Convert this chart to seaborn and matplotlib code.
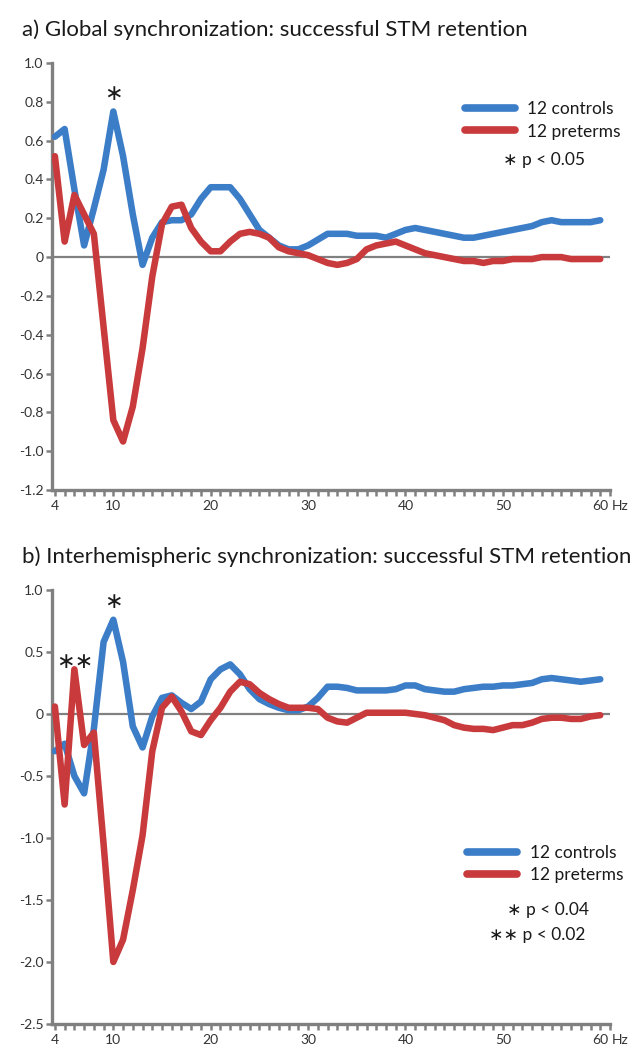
import matplotlib.pyplot as plt
import pandas as pd
import seaborn as sns
from matplotlib.ticker import MultipleLocator

# frequencies (Hz)
freqs = list(range(4, 61))

# a) global synchronization
global_controls = [0.62, 0.66, 0.35, 0.06, 0.25, 0.45, 0.75, 0.52, 0.22, -0.04,
                   0.10, 0.18, 0.19, 0.19, 0.22, 0.30, 0.36, 0.36, 0.36, 0.30,
                   0.22, 0.14, 0.10, 0.06, 0.04, 0.04, 0.06, 0.09, 0.12, 0.12,
                   0.12, 0.11, 0.11, 0.11, 0.10, 0.12, 0.14, 0.15, 0.14, 0.13,
                   0.12, 0.11, 0.10, 0.10, 0.11, 0.12, 0.13, 0.14, 0.15, 0.16,
                   0.18, 0.19, 0.18, 0.18, 0.18, 0.18, 0.19]
global_preterms = [0.52, 0.08, 0.32, 0.22, 0.12, -0.36, -0.84, -0.95, -0.77, -0.47,
                   -0.10, 0.17, 0.26, 0.27, 0.15, 0.08, 0.03, 0.03, 0.08, 0.12,
                   0.13, 0.12, 0.10, 0.05, 0.03, 0.02, 0.01, -0.01, -0.03, -0.04,
                   -0.03, -0.01, 0.04, 0.06, 0.07, 0.08, 0.06, 0.04, 0.02, 0.01,
                   0.0, -0.01, -0.02, -0.02, -0.03, -0.02, -0.02, -0.01, -0.01, -0.01,
                   0.0, 0.0, 0.0, -0.01, -0.01, -0.01, -0.01]

# b) interhemispheric synchronization
inter_controls = [-0.30, -0.24, -0.50, -0.64, -0.12, 0.58, 0.76, 0.42, -0.10, -0.27,
                  -0.02, 0.13, 0.15, 0.09, 0.04, 0.10, 0.28, 0.36, 0.40, 0.32,
                  0.20, 0.12, 0.08, 0.05, 0.03, 0.03, 0.06, 0.13, 0.22, 0.22,
                  0.21, 0.19, 0.19, 0.19, 0.19, 0.20, 0.23, 0.23, 0.20, 0.19,
                  0.18, 0.18, 0.20, 0.21, 0.22, 0.22, 0.23, 0.23, 0.24, 0.25,
                  0.28, 0.29, 0.28, 0.27, 0.26, 0.27, 0.28]
inter_preterms = [0.06, -0.73, 0.36, -0.25, -0.15, -1.05, -2.00, -1.82, -1.42, -0.98,
                  -0.30, 0.05, 0.14, 0.02, -0.14, -0.17, -0.05, 0.05, 0.18, 0.26,
                  0.24, 0.17, 0.12, 0.08, 0.05, 0.05, 0.05, 0.04, -0.03, -0.06,
                  -0.07, -0.03, 0.01, 0.01, 0.01, 0.01, 0.01, 0.0, -0.01, -0.03,
                  -0.05, -0.09, -0.11, -0.12, -0.12, -0.13, -0.11, -0.09, -0.09, -0.07,
                  -0.04, -0.03, -0.03, -0.04, -0.04, -0.02, -0.01]

groups = ['12 controls', '12 preterms']
colors = ['#3c7dc8', '#c93a3c']

xtick_values = [4, 10, 20, 30, 40, 50, 60]
xtick_labels = ['4', '10', '20', '30', '40', '50', '60']

a_yticks = [1.0, 0.8, 0.6, 0.4, 0.2, 0, -0.2, -0.4, -0.6, -0.8, -1.0, -1.2]
a_ylabels = ['1.0', '0.8', '0.6', '0.4', '0.2', '0', '-0.2', '-0.4', '-0.6', '-0.8', '-1.0', '-1.2']
b_yticks = [1.0, 0.5, 0, -0.5, -1.0, -1.5, -2.0, -2.5]
b_ylabels = ['1.0', '0.5', '0', '-0.5', '-1.0', '-1.5', '-2.0', '-2.5']

titles = ['a) Global synchronization: successful STM retention',
          'b) Interhemispheric synchronization: successful STM retention']

sns.set_style('white')
plt.rcParams['font.family'] = ['Lato', 'DejaVu Sans']

axis_gray = '#808080'
tick_color = '#333333'
text_color = '#1a1a1a'


def draw_panel(ax, controls, preterms, yticks, ylabels):
    df = pd.DataFrame({
        'freq': freqs + freqs,
        'value': controls + preterms,
        'group': [groups[0]] * len(freqs) + [groups[1]] * len(freqs),
    })
    ax.axhline(0, color=axis_gray, linewidth=1.6, zorder=1)
    sns.lineplot(data=df, x='freq', y='value', hue='group', palette=colors,
                 linewidth=4.7, ax=ax, zorder=3)
    ax.set_xlim(3.7, 61.0)
    ax.set_ylim(min(yticks), max(yticks))
    ax.set_xticks(xtick_values)
    ax.set_xticklabels(xtick_labels)
    ax.xaxis.set_minor_locator(MultipleLocator(1))
    ax.set_yticks(yticks)
    ax.set_yticklabels(ylabels)
    ax.set_xlabel('')
    ax.set_ylabel('')
    for side in ['top', 'right']:
        ax.spines[side].set_visible(False)
    for side in ['left', 'bottom']:
        ax.spines[side].set_color(axis_gray)
        ax.spines[side].set_linewidth(2.4)
    ax.tick_params(axis='both', which='both', direction='out', color=axis_gray,
                   width=1.8, labelsize=10, labelcolor=tick_color,
                   bottom=True, left=True, top=False, right=False)
    ax.tick_params(axis='x', which='both', length=4.5, pad=3)
    ax.tick_params(axis='y', which='major', length=4, pad=2)


fig = plt.figure(figsize=(6.44, 10.5), dpi=100)
ax1 = fig.add_axes([0.0807, 0.5333, 0.8665, 0.4067])
ax2 = fig.add_axes([0.0807, 0.0248, 0.8665, 0.4133])

draw_panel(ax1, global_controls, global_preterms, a_yticks, a_ylabels)
draw_panel(ax2, inter_controls, inter_preterms, b_yticks, b_ylabels)

# "Hz" after the last tick label
for ax in [ax1, ax2]:
    ax.annotate('Hz', xy=(60, 0), xycoords=('data', 'axes fraction'),
                xytext=(8, -7.5), textcoords='offset points', ha='left', va='top',
                fontsize=10, color=tick_color)

fig.text(22 / 644, 1 - 30 / 1050, titles[0], fontsize=16, va='center', color=text_color)
fig.text(22 / 644, 1 - 557 / 1050, titles[1], fontsize=16, va='center', color=text_color)

# legends
leg_kw = dict(loc='upper left', frameon=False, fontsize=12.5, handlelength=2.9,
              handletextpad=0.7, labelspacing=0.35, borderpad=0, borderaxespad=0)
leg1 = ax1.legend(bbox_to_anchor=(0.740, 0.910), **leg_kw)
leg2 = ax2.legend(bbox_to_anchor=(0.744, 0.412), **leg_kw)
for leg in [leg1, leg2]:
    for line in leg.get_lines():
        line.set_linewidth(5.5)
    for t in leg.get_texts():
        t.set_color(text_color)

ax1.text(0.955, 0.773, '∗ p < 0.05', transform=ax1.transAxes, ha='right', va='center',
         fontsize=12.5, color=text_color)
ax2.text(0.962, 0.263, '∗ p < 0.04', transform=ax2.transAxes, ha='right', va='center',
         fontsize=12.5, color=text_color)
ax2.text(0.956, 0.205, '∗∗ p < 0.02', transform=ax2.transAxes, ha='right', va='center',
         fontsize=12.5, color=text_color)

# significance markers
ax1.text(10, 0.84, '∗', ha='center', va='center', fontsize=16, color=text_color)
ax2.text(10, 0.90, '∗', ha='center', va='center', fontsize=16, color=text_color)
ax2.text(6.05, 0.42, '∗∗', ha='center', va='center', fontsize=16, color=text_color)

fig.savefig('out.png', dpi=100)
